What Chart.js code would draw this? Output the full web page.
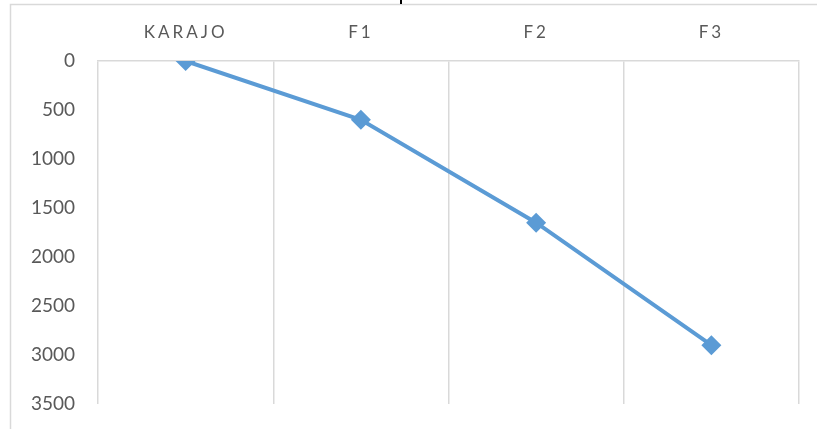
<!DOCTYPE html>
<html>
<head>
<meta charset="utf-8">
<style>
  html, body { margin: 0; padding: 0; background: #ffffff; }
  #wrap { position: relative; width: 817px; height: 429px; }
  canvas { display: block; }
</style>
<script src="https://cdn.jsdelivr.net/npm/chart.js@4.4.1/dist/chart.umd.min.js"></script>
</head>
<body>
<div id="wrap"><canvas id="chart" width="817" height="429"></canvas></div>
<script>
// Stations along the profile and their depths
const categories = ['KARAJO', 'F1', 'F2', 'F3'];
const depthValues = [0, 600, 1650, 2900];
const depthTicks = [0, 500, 1000, 1500, 2000, 2500, 3000, 3500];

const LINE_BLUE = '#5B9BD5';
const GRID_GREY = '#D9D9D9';
const TEXT_GREY = '#595959';
const FONT = 'Lato, "Open Sans", "Liberation Sans", sans-serif';

// Page frame lines around the chart object
const framePlugin = {
  id: 'frame',
  beforeDraw(chart) {
    const ctx = chart.ctx;
    ctx.save();
    ctx.strokeStyle = GRID_GREY;
    ctx.lineWidth = 1.5;
    ctx.beginPath();
    ctx.moveTo(10.5, 429);
    ctx.lineTo(10.5, 4.5);
    ctx.lineTo(817, 4.5);
    ctx.stroke();
    ctx.fillStyle = '#000000';
    ctx.fillRect(400, 0, 2, 4);
    ctx.restore();
  }
};

// Spaced lettering for the category labels
const spacedLabelsPlugin = {
  id: 'spacedLabels',
  afterUpdate(chart) {
    const s = chart.scales.x;
    if (s && !s.__spaced) {
      const orig = s.drawLabels.bind(s);
      s.drawLabels = function (area) {
        const ctx = chart.ctx;
        ctx.save();
        ctx.letterSpacing = '3px';
        orig(area);
        ctx.restore();
      };
      s.__spaced = true;
    }
  }
};

new Chart(document.getElementById('chart'), {
  type: 'line',
  data: {
    labels: categories,
    datasets: [{
      data: depthValues,
      borderColor: LINE_BLUE,
      backgroundColor: LINE_BLUE,
      borderWidth: 4,
      pointStyle: 'rectRot',
      pointRadius: 10,
      pointHoverRadius: 10,
      pointBorderWidth: 0,
      tension: 0,
      fill: false
    }]
  },
  options: {
    responsive: false,
    animation: false,
    events: [],
    layout: { padding: { left: 0, top: 0, right: 18, bottom: 25 } },
    plugins: {
      legend: { display: false },
      tooltip: { enabled: false }
    },
    scales: {
      x: {
        type: 'category',
        position: 'top',
        offset: true,
        grid: {
          display: true,
          offset: true,
          color: GRID_GREY,
          lineWidth: 1.5,
          drawTicks: false
        },
        border: { display: true, color: GRID_GREY, width: 1.5 },
        ticks: {
          color: TEXT_GREY,
          font: { family: FONT, size: 17 },
          padding: 18,
          maxRotation: 0
        },
        afterFit(scale) { scale.height = 61; }
      },
      y: {
        reverse: true,
        min: 0,
        max: 3500,
        afterBuildTicks(scale) {
          scale.ticks = depthTicks.map(v => ({ value: v }));
        },
        grid: { display: false, drawTicks: false },
        border: { display: false },
        ticks: {
          color: TEXT_GREY,
          font: { family: FONT, size: 19 },
          padding: 23,
          callback: (v) => String(v)
        },
        afterFit(scale) {
          scale.width = 98;
          scale.paddingTop = 0;
          scale.paddingBottom = 0;
        }
      }
    }
  },
  plugins: [framePlugin, spacedLabelsPlugin]
});
</script>
</body>
</html>
